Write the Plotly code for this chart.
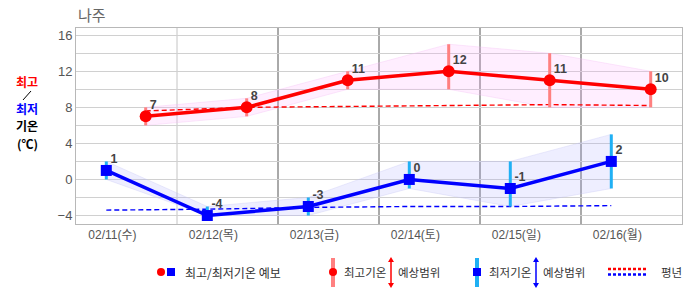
import plotly.graph_objects as go

# ---------------- data ----------------
days = ["02/11(수)", "02/12(목)", "02/13(금)", "02/14(토)", "02/15(일)", "02/16(월)"]
max_fc = [7, 8, 11, 12, 11, 10]
max_hi = [8, 9, 12, 15, 14, 12]
max_lo = [6, 7, 10, 10, 8, 8]
min_fc = [1, -4, -3, 0, -1, 2]
min_hi = [2, -3, -2, 2, 2, 5]
min_lo = [0, -4, -4, -1, -3, -1]
max_normal = [7.6, 8.0, 8.1, 8.2, 8.3, 8.2]
min_normal = [-3.4, -3.3, -3.1, -3.0, -3.0, -2.9]
y_grid = [-4, -2, 0, 2, 4, 6, 8, 10, 12, 14, 16]
y_labels = ["−4", "", "0", "", "4", "", "8", "", "12", "", "16"]

# position of observations inside each day column (fraction of the day)
MAX_POS = 0.69
MIN_POS = 0.30
LABEL_POS = 0.36
n = len(days)
x_max = [i + MAX_POS for i in range(n)]
x_min = [i + MIN_POS for i in range(n)]
x_lab = [i + LABEL_POS for i in range(n)]

RED = "#ff0000"
BLUE = "#0000ff"
RED_BAR = "#ff8080"
BLUE_BAR = "#20b0f4"
LBL = "#444444"
TXTFONT = "Liberation Sans, Noto Sans CJK KR"

fig = go.Figure()

# bands
fig.add_trace(go.Scatter(x=x_max, y=max_hi, mode="lines",
                         line=dict(width=0.6, color="rgba(245,190,245,0.6)"), hoverinfo="skip"))
fig.add_trace(go.Scatter(x=x_max, y=max_lo, mode="lines", fill="tonexty",
                         fillcolor="rgba(255,170,255,0.2)",
                         line=dict(width=0.6, color="rgba(245,190,245,0.6)"), hoverinfo="skip"))
fig.add_trace(go.Scatter(x=x_min, y=min_hi, mode="lines",
                         line=dict(width=0.6, color="rgba(200,200,245,0.6)"), hoverinfo="skip"))
fig.add_trace(go.Scatter(x=x_min, y=min_lo, mode="lines", fill="tonexty",
                         fillcolor="rgba(170,170,255,0.2)",
                         line=dict(width=0.6, color="rgba(200,200,245,0.6)"), hoverinfo="skip"))

# normals
fig.add_trace(go.Scatter(x=x_max, y=max_normal, mode="lines",
                         line=dict(width=1.4, color=RED, dash="5px,3px"), hoverinfo="skip"))
fig.add_trace(go.Scatter(x=x_min, y=min_normal, mode="lines",
                         line=dict(width=1.4, color=BLUE, dash="5px,3px"), hoverinfo="skip"))

# range bars
fig.add_trace(go.Scatter(
    x=x_max, y=max_fc, mode="markers", marker=dict(size=1, color="rgba(0,0,0,0)"),
    error_y=dict(type="data", symmetric=False,
                 array=[h - v for h, v in zip(max_hi, max_fc)],
                 arrayminus=[v - l for v, l in zip(max_fc, max_lo)],
                 thickness=3, width=0, color=RED_BAR),
    hoverinfo="skip"))
fig.add_trace(go.Scatter(
    x=x_min, y=min_fc, mode="markers", marker=dict(size=1, color="rgba(0,0,0,0)"),
    error_y=dict(type="data", symmetric=False,
                 array=[h - v for h, v in zip(min_hi, min_fc)],
                 arrayminus=[v - l for v, l in zip(min_fc, min_lo)],
                 thickness=3, width=0, color=BLUE_BAR),
    hoverinfo="skip"))

# forecasts
fig.add_trace(go.Scatter(
    x=x_max, y=max_fc, mode="lines+markers",
    line=dict(width=3.5, color=RED), marker=dict(symbol="circle", size=12, color=RED),
    hoverinfo="skip"))
fig.add_trace(go.Scatter(
    x=x_min, y=min_fc, mode="lines+markers",
    line=dict(width=3.5, color=BLUE), marker=dict(symbol="square", size=11, color=BLUE),
    hoverinfo="skip"))

# value labels
for xs, vs in [(x_max, max_fc), (x_min, min_fc)]:
    fig.add_trace(go.Scatter(
        x=xs, y=vs, mode="text+markers", marker=dict(size=5, color="rgba(0,0,0,0)"),
        text=[f"<b>{v}</b>" for v in vs], textposition="top right",
        textfont=dict(family=TXTFONT, size=12.5, color=LBL), hoverinfo="skip"))

# ---------------- layout helpers (pixel -> paper) ----------------
L, R, T, B = 76, 4, 28, 71
W, H = 686, 295
PW, PH = W - L - R, H - T - B


def PX(x):
    return (x - L) / PW


def PY(y):
    return (H - B - y) / PH


shapes = []
# day boundaries
for i in range(1, n):
    shapes.append(dict(type="line", xref="x", yref="paper", x0=i, x1=i, y0=0, y1=1,
                       line=dict(color="#c4c4c4" if i == 1 else "#555555", width=1),
                       layer="below"))

annotations = []
# title
annotations.append(dict(text="나주", xref="paper", yref="paper", x=PX(76), y=PY(15),
                        xanchor="left", yanchor="middle", showarrow=False,
                        font=dict(family="Noto Sans CJK KR", size=15, color="#666666")))
# left axis label
for txt, yy, col in [("최고", 81, RED), ("최저", 108.5, BLUE), ("기온", 125.5, "#000000"),
                     ("(℃)", 143.5, "#000000")]:
    annotations.append(dict(text=f"<b>{txt}</b>", xref="paper", yref="paper", x=PX(27), y=PY(yy),
                            xanchor="center", yanchor="middle", showarrow=False, align="center",
                            font=dict(family="Noto Sans CJK KR", size=12, color=col)))
shapes.append(dict(type="line", xref="paper", yref="paper", x0=PX(23), x1=PX(31),
                   y0=PY(100), y1=PY(91), line=dict(color="#000000", width=1)))

# ---------------- custom legend ----------------
LY = 272
LF = dict(family="Noto Sans CJK KR", size=11.5, color="#333333")


def circle(cx, cy, r, color):
    return dict(type="circle", xref="paper", yref="paper", x0=PX(cx - r), x1=PX(cx + r),
                y0=PY(cy + r), y1=PY(cy - r), fillcolor=color, line=dict(width=0))


def rect(x0, y0, x1, y1, color):
    return dict(type="rect", xref="paper", yref="paper", x0=PX(x0), x1=PX(x1),
                y0=PY(y1), y1=PY(y0), fillcolor=color, line=dict(width=0))


def darrow(x, y0, y1, color):
    out = [dict(type="line", xref="paper", yref="paper", x0=PX(x), x1=PX(x),
                y0=PY(y0 + 3), y1=PY(y1 - 3), line=dict(color=color, width=1.5))]
    out.append(dict(type="path", xref="paper", yref="paper",
                    path=f"M {PX(x)} {PY(y0)} L {PX(x - 3)} {PY(y0 + 5)} L {PX(x + 3)} {PY(y0 + 5)} Z",
                    fillcolor=color, line=dict(width=0)))
    out.append(dict(type="path", xref="paper", yref="paper",
                    path=f"M {PX(x)} {PY(y1)} L {PX(x - 3)} {PY(y1 - 5)} L {PX(x + 3)} {PY(y1 - 5)} Z",
                    fillcolor=color, line=dict(width=0)))
    return out


def ltext(txt, x, size=11.5):
    return dict(text=txt, xref="paper", yref="paper", x=PX(x), y=PY(LY),
                xanchor="left", yanchor="middle", showarrow=False,
                font=dict(LF, size=size))


# item 1
shapes.append(circle(161, LY, 4, RED))
shapes.append(rect(167, LY - 4, 175, LY + 4, BLUE))
annotations.append(ltext("최고/최저기온 예보", 183, 12))
# item 2
shapes.append(rect(331, 258, 335, 287, RED_BAR))
shapes.append(circle(333, LY, 4, RED))
annotations.append(ltext("최고기온", 342))
annotations.append(ltext("예상범위", 396))
shapes += darrow(391, 257, 288, RED)
# item 3
shapes.append(rect(475, 258, 479, 287, BLUE_BAR))
shapes.append(rect(473, LY - 4, 481, LY + 4, BLUE))
annotations.append(ltext("최저기온", 487))
annotations.append(ltext("예상범위", 541))
shapes += darrow(536, 257, 288, BLUE)
# item 4
shapes.append(dict(type="line", xref="paper", yref="paper", x0=PX(608), x1=PX(647),
                   y0=PY(269), y1=PY(269), line=dict(color=RED, width=2.5, dash="3px,2px")))
shapes.append(dict(type="line", xref="paper", yref="paper", x0=PX(608), x1=PX(647),
                   y0=PY(274.5), y1=PY(274.5), line=dict(color=BLUE, width=2.5, dash="3px,2px")))
annotations.append(ltext("평년", 659))

fig.update_layout(
    width=W, height=H, autosize=False,
    margin=dict(l=L, r=R, t=T, b=B, pad=0),
    paper_bgcolor="white", plot_bgcolor="white",
    showlegend=False,
    shapes=shapes, annotations=annotations,
    xaxis=dict(range=[0, n], tickvals=x_lab, ticktext=days, showgrid=False, zeroline=False,
               showline=True, mirror=True, linecolor="#b8b8b8", linewidth=1, ticks="",
               tickfont=dict(family=TXTFONT, size=12, color="#555555"), fixedrange=True),
    yaxis=dict(range=[-4.94, 16.8], tickvals=y_grid, ticktext=y_labels, showgrid=True,
               gridcolor="#d0d0d0", gridwidth=1, zeroline=False,
               showline=True, mirror=True, linecolor="#b8b8b8", linewidth=1, ticks="",
               tickfont=dict(family=TXTFONT, size=13, color="#555555"), fixedrange=True),
)

fig.write_html("out.html")
